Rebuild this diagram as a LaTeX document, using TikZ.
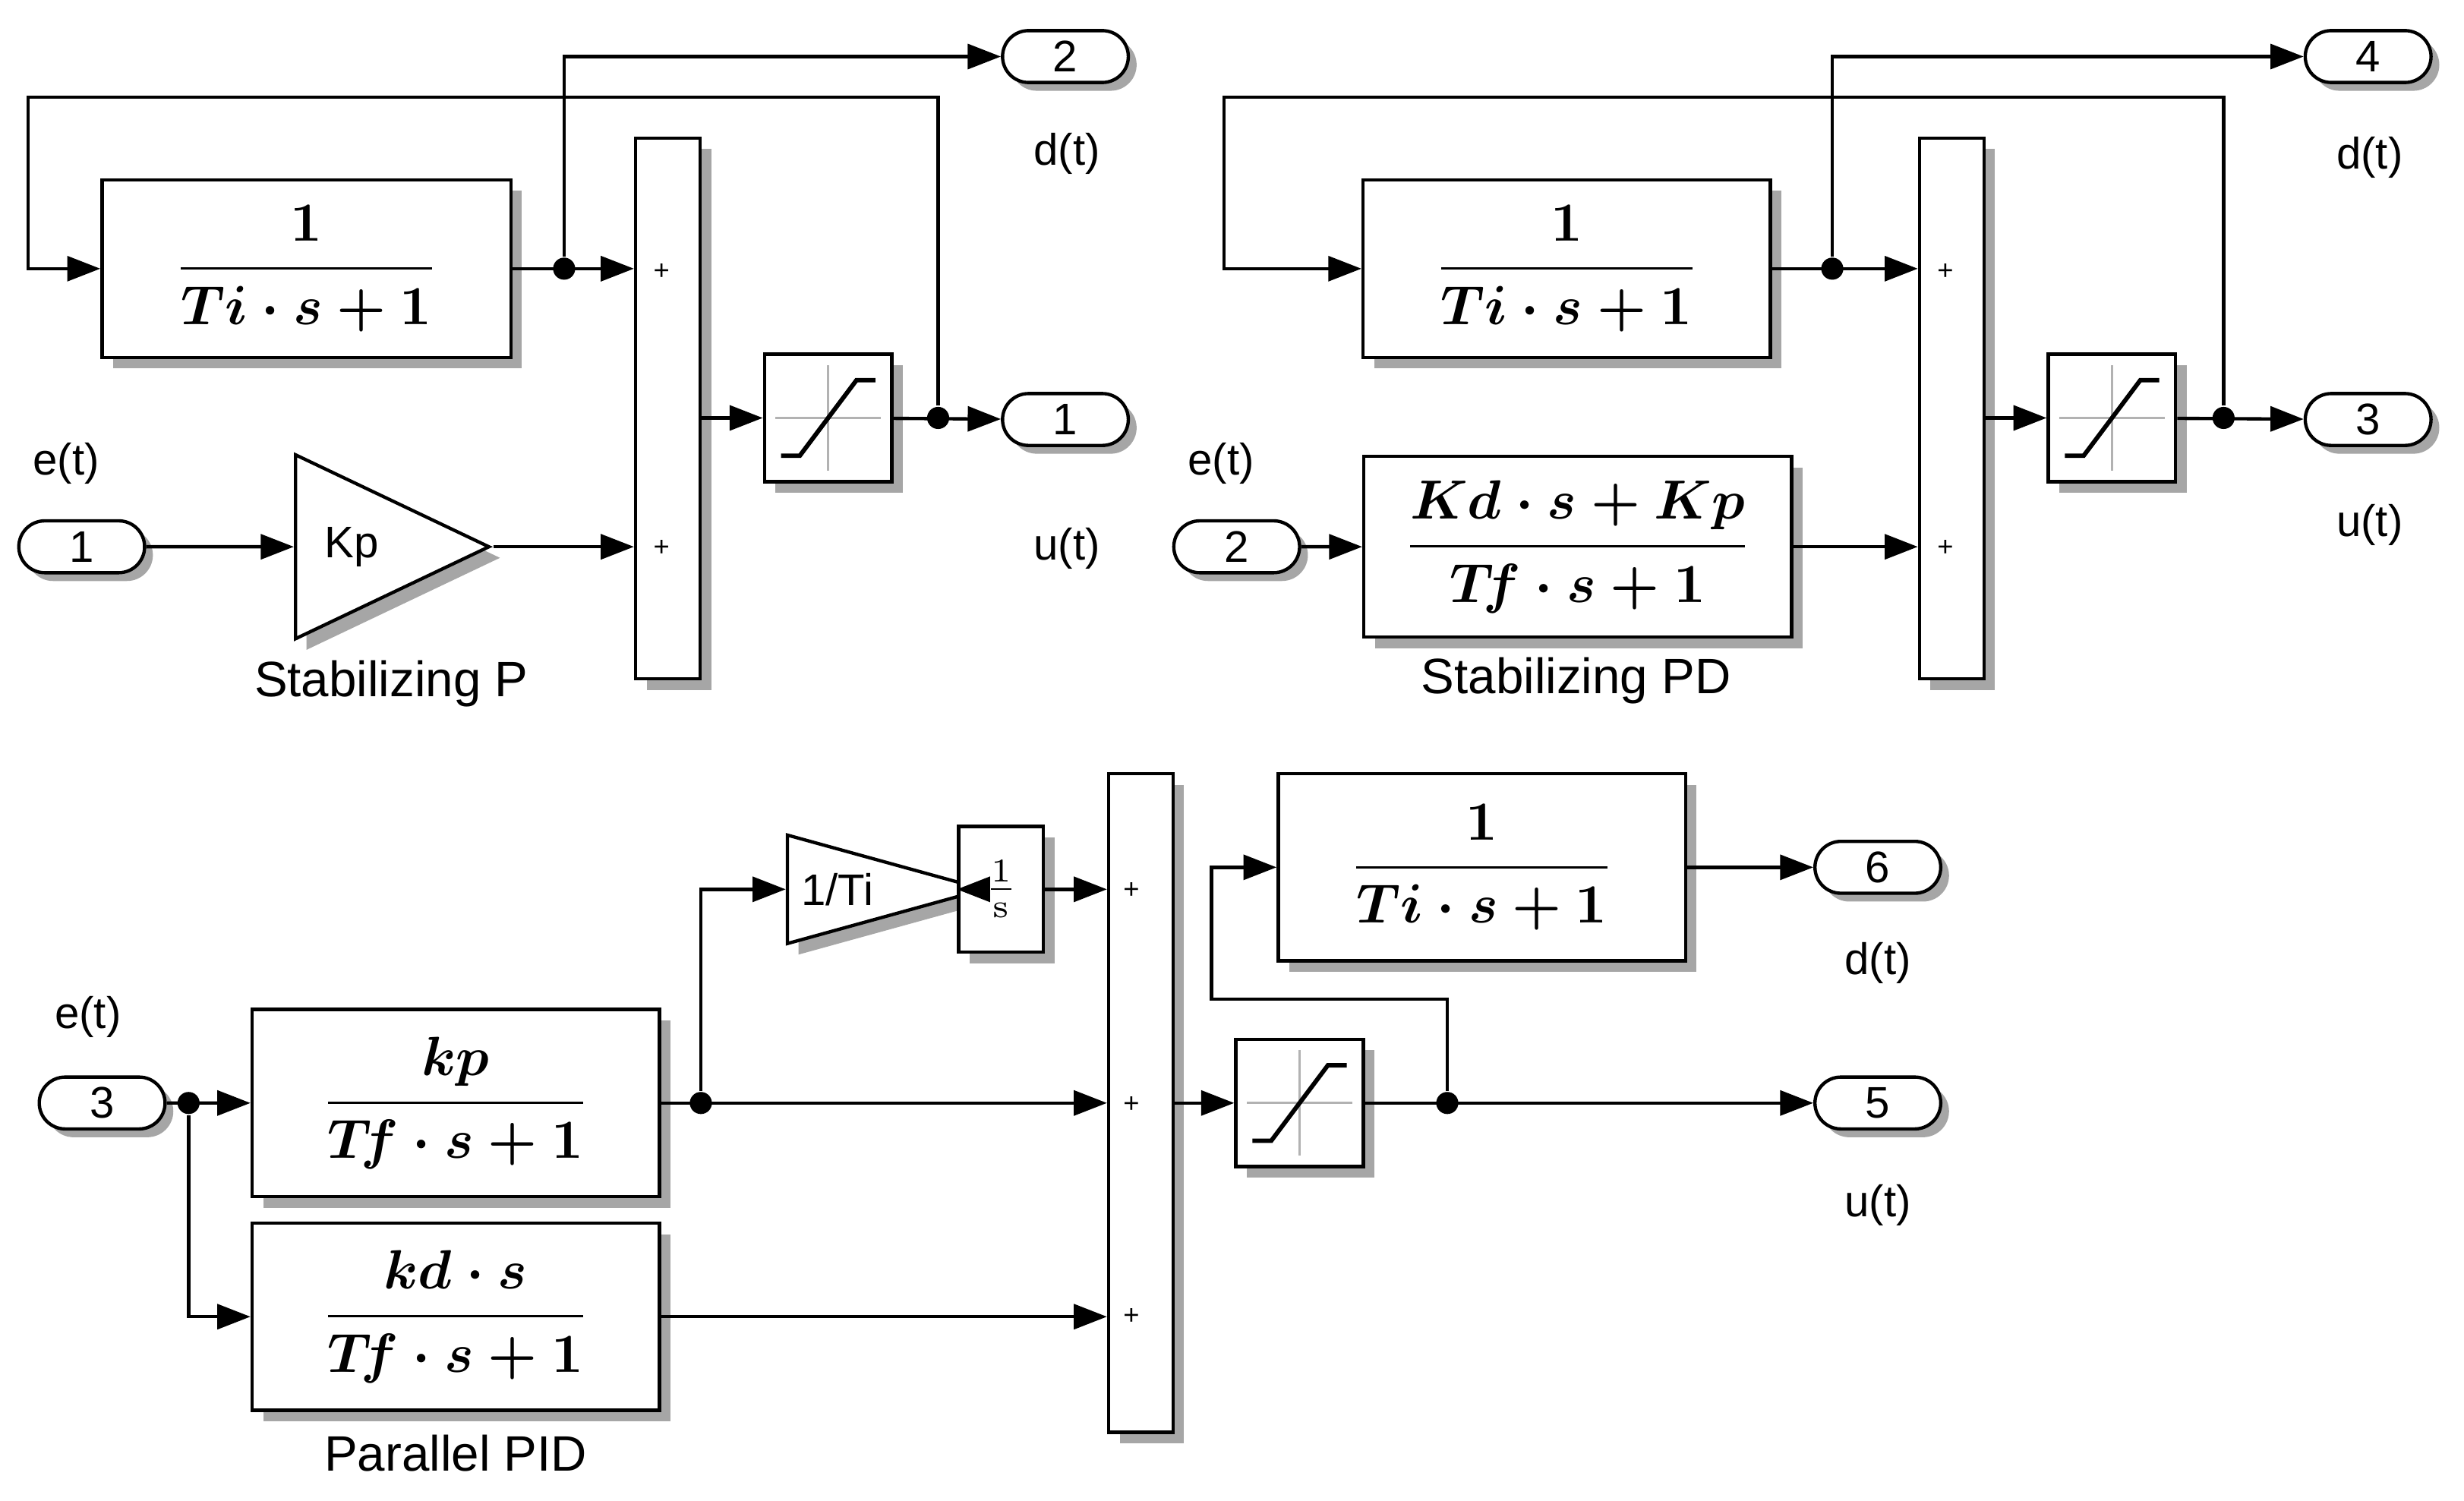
\documentclass[tikz,border=0pt]{standalone}
\usepackage{amsmath}
\usepackage{fontspec}
\setsansfont{Liberation Sans}
\usetikzlibrary{arrows.meta,shapes.geometric,shapes.misc,shadows,calc}

\tikzset{
  sig/.style={-{Triangle[length=6pt,width=4.5pt]}, line width=0.6pt},
  wire/.style={line width=0.6pt},
  blk/.style={draw, fill=white, line width=0.6pt, inner sep=0pt,
    drop shadow={shadow xshift=2pt, shadow yshift=-2pt, fill=gray!70, opacity=1},
    font=\boldmath},
  sumbar/.style={blk, minimum width=0.41cm},
  sat/.style={blk, minimum width=0.81cm, minimum height=0.81cm,
    path picture={
      \draw[gray!60, line width=0.4pt] ([xshift=2pt]path picture bounding box.west) -- ([xshift=-2pt]path picture bounding box.east)
        ([yshift=-2pt]path picture bounding box.north) -- ([yshift=2pt]path picture bounding box.south);
      \draw[line width=0.8pt] ([shift={(-0.3cm,-0.24cm)}]path picture bounding box.center)
        -- ++(0.12cm,0cm) -- ++(0.36cm,0.48cm) -- ++(0.12cm,0cm);}},
  port/.style={draw, fill=white, rounded rectangle, line width=0.6pt, inner sep=0pt,
    minimum width=0.8cm, minimum height=0.33cm, font=\sffamily\footnotesize,
    drop shadow={shadow xshift=1.5pt, shadow yshift=-1.5pt, fill=gray!70, opacity=1}},
  gain/.style={draw, fill=white, isosceles triangle, isosceles triangle stretches,
    line width=0.6pt, inner sep=0pt, anchor=west, font=\sffamily\footnotesize,
    drop shadow={shadow xshift=2pt, shadow yshift=-2pt, fill=gray!70, opacity=1}},
  lbl/.style={font=\sffamily\footnotesize},
  title/.style={font=\sffamily\small},
  pl/.style={font=\sffamily\tiny},
  dot/.style={circle, fill, inner sep=0pt, minimum size=4pt}
}

\begin{document}
\begin{tikzpicture}[x=0.01cm, y=-0.01cm]
\useasboundingbox (0,0) rectangle (1568,955);

% Stabilizing P
\node[blk, minimum width=2.6cm, minimum height=1.13cm] (tiA) at (195,171) {$\dfrac{1}{Ti\cdot s+1}$};
\node[sumbar, minimum height=3.44cm] (sumA) at (425,260) {};
\node[sat] (satA) at (527,266) {};
\node[port] (outA1) at (678,267) {1};
\node[port] (outA2) at (678,36) {2};
\node[port] (inA) at (52,348) {1};
\node[gain, minimum width=1.17cm, minimum height=1.23cm] (kpA) at (187,348) {Kp\hspace{3mm}};
\node[dot] (jA) at (359,171) {};
\node[dot] (jA2) at (597,266) {};
\coordinate (cA1) at (18,62);
\draw[sig] (tiA.east) -- (tiA.east -| sumA.west);
\draw[sig] (jA) |- (outA2);
\draw[sig] (inA) -- (kpA.west);
\draw[sig] (kpA.east) -- (kpA.east -| sumA.west);
\draw[sig] (sumA.east |- satA) -- (satA);
\draw[sig] (satA) -- (outA1);
\draw[sig] (jA2) |- (cA1) |- (tiA.west);
\node[pl] at (421,173) {+};
\node[pl] at (421,349) {+};
\node[lbl] at (679,98) {d(t)};
\node[lbl] at (679,349) {u(t)};
\node[lbl] at (42,295) {e(t)};
\node[title] at (249,435) {Stabilizing P};

% Stabilizing PD
\node[blk, minimum width=2.59cm, minimum height=1.13cm] (tiB) at (997,171) {$\dfrac{1}{Ti\cdot s+1}$};
\node[blk, minimum width=2.72cm, minimum height=1.15cm] (pdB) at (1004,348) {$\dfrac{Kd\cdot s+Kp}{T\!f\cdot s+1}$};
\node[sumbar, minimum height=3.44cm] (sumB) at (1242,260) {};
\node[sat] (satB) at (1344,266) {};
\node[port] (outB3) at (1507,267) {3};
\node[port] (outB4) at (1507,36) {4};
\node[port] (inB) at (787,348) {2};
\node[dot] (jB) at (1166,171) {};
\node[dot] (jB2) at (1415,266) {};
\coordinate (cB1) at (779,62);
\draw[sig] (tiB.east) -- (tiB.east -| sumB.west);
\draw[sig] (jB) |- (outB4);
\draw[sig] (inB) -- (pdB);
\draw[sig] (pdB.east) -- (pdB.east -| sumB.west);
\draw[sig] (sumB.east |- satB) -- (satB);
\draw[sig] (satB) -- (outB3);
\draw[sig] (jB2) |- (cB1) |- (tiB.west);
\node[pl] at (1238,173) {+};
\node[pl] at (1238,349) {+};
\node[lbl] at (1508,100) {d(t)};
\node[lbl] at (1508,334) {u(t)};
\node[lbl] at (777,295) {e(t)};
\node[title] at (1003,433) {Stabilizing PD};

% Parallel PID
\node[port] (inC) at (65,702) {3};
\node[blk, minimum width=2.59cm, minimum height=1.19cm] (kpC) at (290,702) {$\dfrac{kp}{T\!f\cdot s+1}$};
\node[blk, minimum width=2.59cm, minimum height=1.19cm] (kdC) at (290,838) {$\dfrac{kd\cdot s}{T\!f\cdot s+1}$};
\node[gain, minimum width=0.69cm, minimum height=1.25cm] (giC) at (500,566) {1/Ti\hspace{1mm}};
\node[blk, minimum width=0.54cm, minimum height=0.8cm, font=\sffamily\footnotesize] (intC) at (637,566) {$\frac{1}{\mathrm{s}}$};
\node[sumbar, minimum height=4.19cm] (sumC) at (726,702) {};
\node[sat] (satC) at (827,702) {};
\node[blk, minimum width=2.59cm, minimum height=1.19cm] (tiC) at (943,552) {$\dfrac{1}{Ti\cdot s+1}$};
\node[port] (outC5) at (1195,702) {5};
\node[port] (outC6) at (1195,552) {6};
\node[dot] (jC) at (120,702) {};
\node[dot] (jC2) at (446,702) {};
\node[dot] (jC3) at (921,702) {};
\coordinate (cC1) at (771,636);
\draw[sig] (inC) -- (kpC);
\draw[sig] (jC) |- (kdC);
\draw[sig] (kpC) -- (kpC -| sumC.west);
\draw[sig] (jC2) |- (giC.west);
\draw[sig] (giC.east) -- (intC);
\draw[sig] (intC) -- (intC -| sumC.west);
\draw[sig] (kdC) -- (kdC -| sumC.west);
\draw[sig] (sumC.east |- satC) -- (satC);
\draw[sig] (satC) -- (outC5);
\draw[sig] (jC3) |- (cC1) |- (tiC.west);
\draw[sig] (tiC) -- (outC6);
\node[pl] at (720,567) {+};
\node[pl] at (720,703) {+};
\node[pl] at (720,838) {+};
\node[lbl] at (1195,613) {d(t)};
\node[lbl] at (1195,767) {u(t)};
\node[lbl] at (56,647) {e(t)};
\node[title] at (290,925) {Parallel PID};
\end{tikzpicture}
\end{document}
